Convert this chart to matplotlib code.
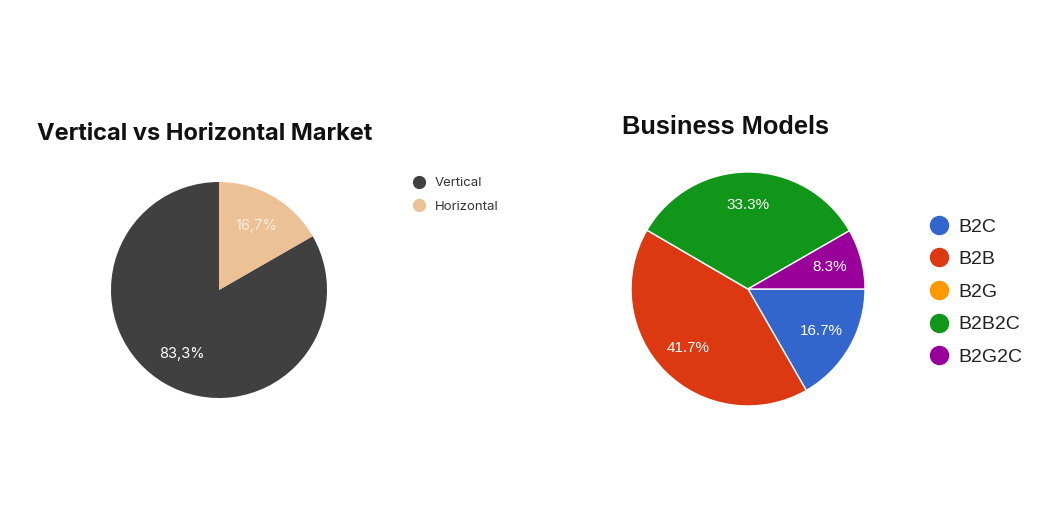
import matplotlib.pyplot as plt
from matplotlib.lines import Line2D

W, H = 1050, 525

# left chart data
market_labels = ['Vertical', 'Horizontal']
market_values = [83.3, 16.7]
market_colors = ['#404040', '#ecc195']

# right chart data
model_labels = ['B2C', 'B2B', 'B2G', 'B2B2C', 'B2G2C']
model_values = [16.7, 41.7, 0.0, 33.3, 8.3]
model_colors = ['#3366cc', '#dc3912', '#ff9900', '#109618', '#990099']


def px_axes(fig, left, top, w, h):
    # axes placed by pixel box (top-left origin)
    return fig.add_axes([left / W, (H - top - h) / H, w / W, h / H])


fig = plt.figure(figsize=(W / 100, H / 100), dpi=100)
fig.patch.set_facecolor('white')

# ---- left: Vertical vs Horizontal ----
ax1 = px_axes(fig, 111, 182, 216, 216)
wedges1, _, pct1 = ax1.pie(market_values, colors=market_colors, startangle=90,
                           counterclock=True, radius=1,
                           autopct=lambda p: ('%.1f%%' % p).replace('.', ','),
                           pctdistance=0.68,
                           wedgeprops=dict(linewidth=0))
for t, c in zip(pct1, ['white', '#fbeedd']):
    t.set_color(c)
    t.set_fontsize(10.5)
    t.set_family('Inter')
ax1.set_xlim(-1, 1)
ax1.set_ylim(-1, 1)
ax1.set_aspect('equal')

fig.text(37 / W, 1 - 134 / H, 'Vertical vs Horizontal Market', fontsize=17,
         fontweight='bold', family='Inter', va='center', ha='left', color='#111111')

h1 = [Line2D([], [], marker='o', ls='', color=c, markersize=8.5) for c in market_colors]
fig.legend(h1, market_labels, loc='upper left', bbox_to_anchor=(412 / W, 1 - 177 / H),
           frameon=False, borderpad=0, borderaxespad=0, handlelength=1,
           handletextpad=0.75, labelspacing=0.85,
           prop=dict(family='Inter', size=9.5), labelcolor='#333333')

# ---- right: Business Models ----
ax2 = px_axes(fig, 631, 172, 234, 234)
wedges2, _, pct2 = ax2.pie(model_values, colors=model_colors, startangle=0,
                           counterclock=False, radius=1,
                           autopct=lambda p: '%.1f%%' % p if p > 0 else '',
                           pctdistance=0.72,
                           wedgeprops=dict(linewidth=1, edgecolor='white'))
for t in pct2:
    t.set_color('white')
    t.set_fontsize(11)
    t.set_family('Liberation Sans')
ax2.set_xlim(-1, 1)
ax2.set_ylim(-1, 1)
ax2.set_aspect('equal')

fig.text(622 / W, 1 - 127 / H, 'Business Models', fontsize=18.3,
         fontweight='bold', family='Liberation Sans', va='center', ha='left',
         color='#111111')

h2 = [Line2D([], [], marker='o', ls='', color=c, markersize=13) for c in model_colors]
fig.legend(h2, model_labels, loc='upper left', bbox_to_anchor=(931 / W, 1 - 218 / H),
           frameon=False, borderpad=0, borderaxespad=0, handlelength=0.85,
           handletextpad=0.55, labelspacing=0.77,
           prop=dict(family='Liberation Sans', size=14), labelcolor='#222222')

fig.savefig('out.png', dpi=100, facecolor='white')
